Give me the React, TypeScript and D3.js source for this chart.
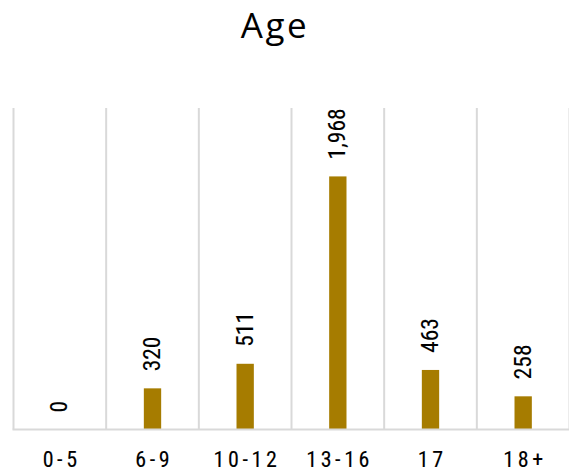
import React from "react";
import * as d3 from "d3";

const categories = ["0-5", "6-9", "10-12", "13-16", "17", "18+"];
const values = [0, 320, 511, 1968, 463, 258];
const yMax = 2500;
const title = "Age";

const W = 569;
const H = 476;
const plotLeft = 13.5;
const plotRight = 569.5;
const plotTop = 108;
const plotBottom = 429.5;

export default function App() {
  const x = d3.scaleBand<string>().domain(categories).range([plotLeft, plotRight]).paddingInner(0).paddingOuter(0);
  const y = d3.scaleLinear().domain([0, yMax]).range([plotBottom, plotTop]);
  const bw = x.bandwidth() * 0.187;
  const fmt = d3.format(",");
  const gridXs = categories.map((c) => x(c) as number).concat([plotRight]);
  const narrow = "'Liberation Sans Narrow', 'Roboto Condensed', 'Liberation Sans', sans-serif";

  return (
    <svg width={W} height={H} style={{ position: "absolute", left: 0, top: 0, background: "#fff" }}>
      <text
        x={275}
        y={38}
        textAnchor="middle"
        fontFamily="'Open Sans', sans-serif"
        fontSize={35}
        letterSpacing={2.5}
        fill="#000"
      >
        {title}
      </text>
      {gridXs.map((gx, i) => (
        <line key={i} x1={gx} x2={gx} y1={plotTop} y2={plotBottom} stroke="#d9d9d9" strokeWidth={2} />
      ))}
      {categories.map((c, i) => {
        const cx = (x(c) as number) + x.bandwidth() / 2;
        const v = values[i];
        const top = y(v);
        return (
          <g key={c}>
            {v > 0 && (
              <rect x={cx - bw / 2} y={top} width={bw} height={plotBottom - top} fill="#A67C00" />
            )}
            <text
              transform={`translate(${cx + 7.5},${top - 17}) rotate(-90)`}
              textAnchor="start"
              fontFamily={narrow}
              fontSize={23.5}
              stroke="#000"
              strokeWidth={0.12}
              fill="#000"
            >
              {fmt(v)}
            </text>
            <text
              x={cx + 1.8}
              y={466.5}
              textAnchor="middle"
              fontFamily={narrow}
              fontSize={22}
              letterSpacing={3.6}
              stroke="#000"
              strokeWidth={0.12}
              fill="#000"
            >
              {c}
            </text>
          </g>
        );
      })}
      <line x1={plotLeft - 1} x2={plotRight} y1={plotBottom} y2={plotBottom} stroke="#d9d9d9" strokeWidth={2} />
    </svg>
  );
}
